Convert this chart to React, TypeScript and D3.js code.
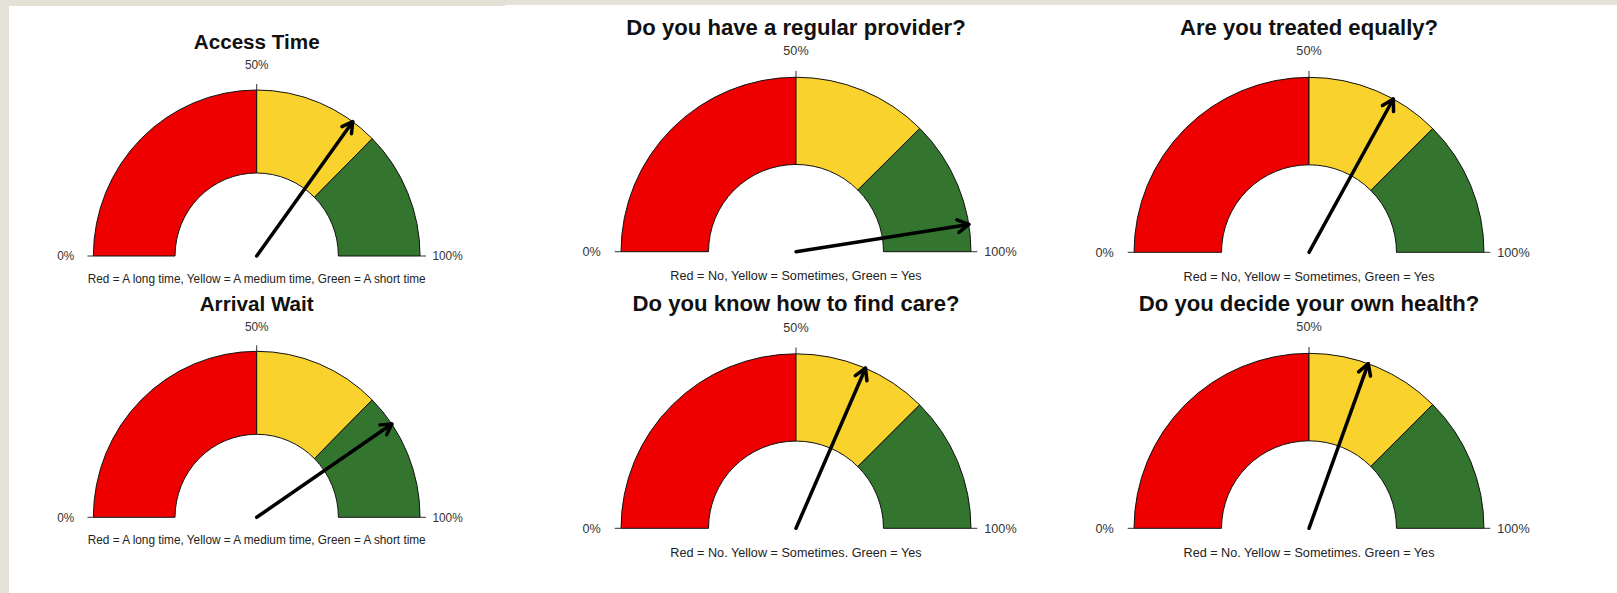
import React from 'react';
import * as d3 from 'd3';

const titles = [
  'Access Time',
  'Arrival Wait',
  'Do you have a regular provider?',
  'Do you know how to find care?',
  'Are you treated equally?',
  'Do you decide your own health?',
];
const captions = [
  'Red = A long time, Yellow = A medium time, Green = A short time',
  'Red = A long time, Yellow = A medium time, Green = A short time',
  'Red = No, Yellow = Sometimes, Green = Yes',
  'Red = No. Yellow = Sometimes. Green = Yes',
  'Red = No, Yellow = Sometimes, Green = Yes',
  'Red = No. Yellow = Sometimes. Green = Yes',
];
const needleValues = [0.7, 0.81, 0.95, 0.63, 0.66, 0.61];
const bandStarts = [0, 0.5, 0.75];
const bandEnds = [0.5, 0.75, 1];
const bandColors = ['#EE0000', '#F9D22E', '#33752F'];
const tickValues = [0, 0.5, 1];
const tickLabels = ['0%', '50%', '100%'];

const layout = [
  { cx: 256.7, cy: 256, sx: 0.984, sy: 1.0 },
  { cx: 256.7, cy: 517.3, sx: 0.984, sy: 1.0 },
  { cx: 796, cy: 251.7, sx: 1.054, sy: 1.051 },
  { cx: 796, cy: 528.3, sx: 1.054, sy: 1.051 },
  { cx: 1309, cy: 252.3, sx: 1.054, sy: 1.054 },
  { cx: 1309, cy: 528.3, sx: 1.054, sy: 1.054 },
];

const W = 1617;
const H = 593;
const R = 166;
const r = 83;
const FONT = "'Liberation Sans', Arial, Helvetica, sans-serif";

const angle = d3.scaleLinear().domain([0, 1]).range([-Math.PI / 2, Math.PI / 2]);
const arcGen = d3.arc<any>().innerRadius(r).outerRadius(R);

function Gauge({ i }: { i: number }) {
  const L = layout[i];
  const v = needleValues[i];
  const a = angle(v);
  const tip: [number, number] = [R * Math.sin(a), -R * Math.cos(a)];
  const dirAng = Math.atan2(tip[1], tip[0]);
  const headLen = 12;
  const headAng = Math.PI / 6;
  const h1: [number, number] = [
    tip[0] - headLen * Math.cos(dirAng - headAng),
    tip[1] - headLen * Math.sin(dirAng - headAng),
  ];
  const h2: [number, number] = [
    tip[0] - headLen * Math.cos(dirAng + headAng),
    tip[1] - headLen * Math.sin(dirAng + headAng),
  ];
  const lineGen = d3.line();
  return (
    <g transform={`translate(${L.cx},${L.cy}) scale(${L.sx},${L.sy})`}>
      <text x={0} y={-214} dy="0.35em" textAnchor="middle" fontFamily={FONT} fontWeight="bold" fontSize={21} fill="#111">
        {titles[i]}
      </text>
      {bandStarts.map((s, k) => (
        <path
          key={k}
          d={arcGen({ startAngle: angle(s), endAngle: angle(bandEnds[k]) }) as string}
          fill={bandColors[k]}
          stroke="#111"
          strokeWidth={1}
          vectorEffect="non-scaling-stroke"
        />
      ))}
      {tickValues.map((t, k) => {
        const ta = angle(t);
        const x1 = R * Math.sin(ta), y1 = -R * Math.cos(ta);
        const x2 = (R + 6) * Math.sin(ta), y2 = -(R + 6) * Math.cos(ta);
        const lx = (R + 28) * Math.sin(ta), ly = -(R + 25) * Math.cos(ta);
        return (
          <g key={k}>
            <line x1={x1} y1={y1} x2={x2} y2={y2} stroke="#333" strokeWidth={1} vectorEffect="non-scaling-stroke" />
            <text x={lx} y={ly} dy="0.35em" textAnchor="middle" fontFamily={FONT} fontSize={12} fill="#333">
              {tickLabels[k]}
            </text>
          </g>
        );
      })}
      <path
        d={lineGen([[0, 0], tip]) as string}
        stroke="#000"
        strokeWidth={3.5}
        fill="none"
        strokeLinecap="round"
        vectorEffect="non-scaling-stroke"
      />
      <path
        d={lineGen([h1, tip, h2]) as string}
        stroke="#000"
        strokeWidth={3.5}
        fill="none"
        strokeLinecap="round"
        strokeLinejoin="round"
        vectorEffect="non-scaling-stroke"
      />
      <text x={0} y={23} dy="0.35em" textAnchor="middle" fontFamily={FONT} fontSize={12} fill="#222">
        {captions[i]}
      </text>
    </g>
  );
}

export default function App() {
  return (
    <svg width={W} height={H} style={{ position: 'absolute', left: 0, top: 0, display: 'block' }}>
      <rect x={0} y={0} width={W} height={H} fill="#E4E2D6" />
      <rect x={9} y={6} width={496} height={H - 6} fill="#fff" />
      <rect x={505} y={5} width={W - 505} height={H - 5} fill="#fff" />
      {titles.map((_, i) => (
        <Gauge key={i} i={i} />
      ))}
    </svg>
  );
}
